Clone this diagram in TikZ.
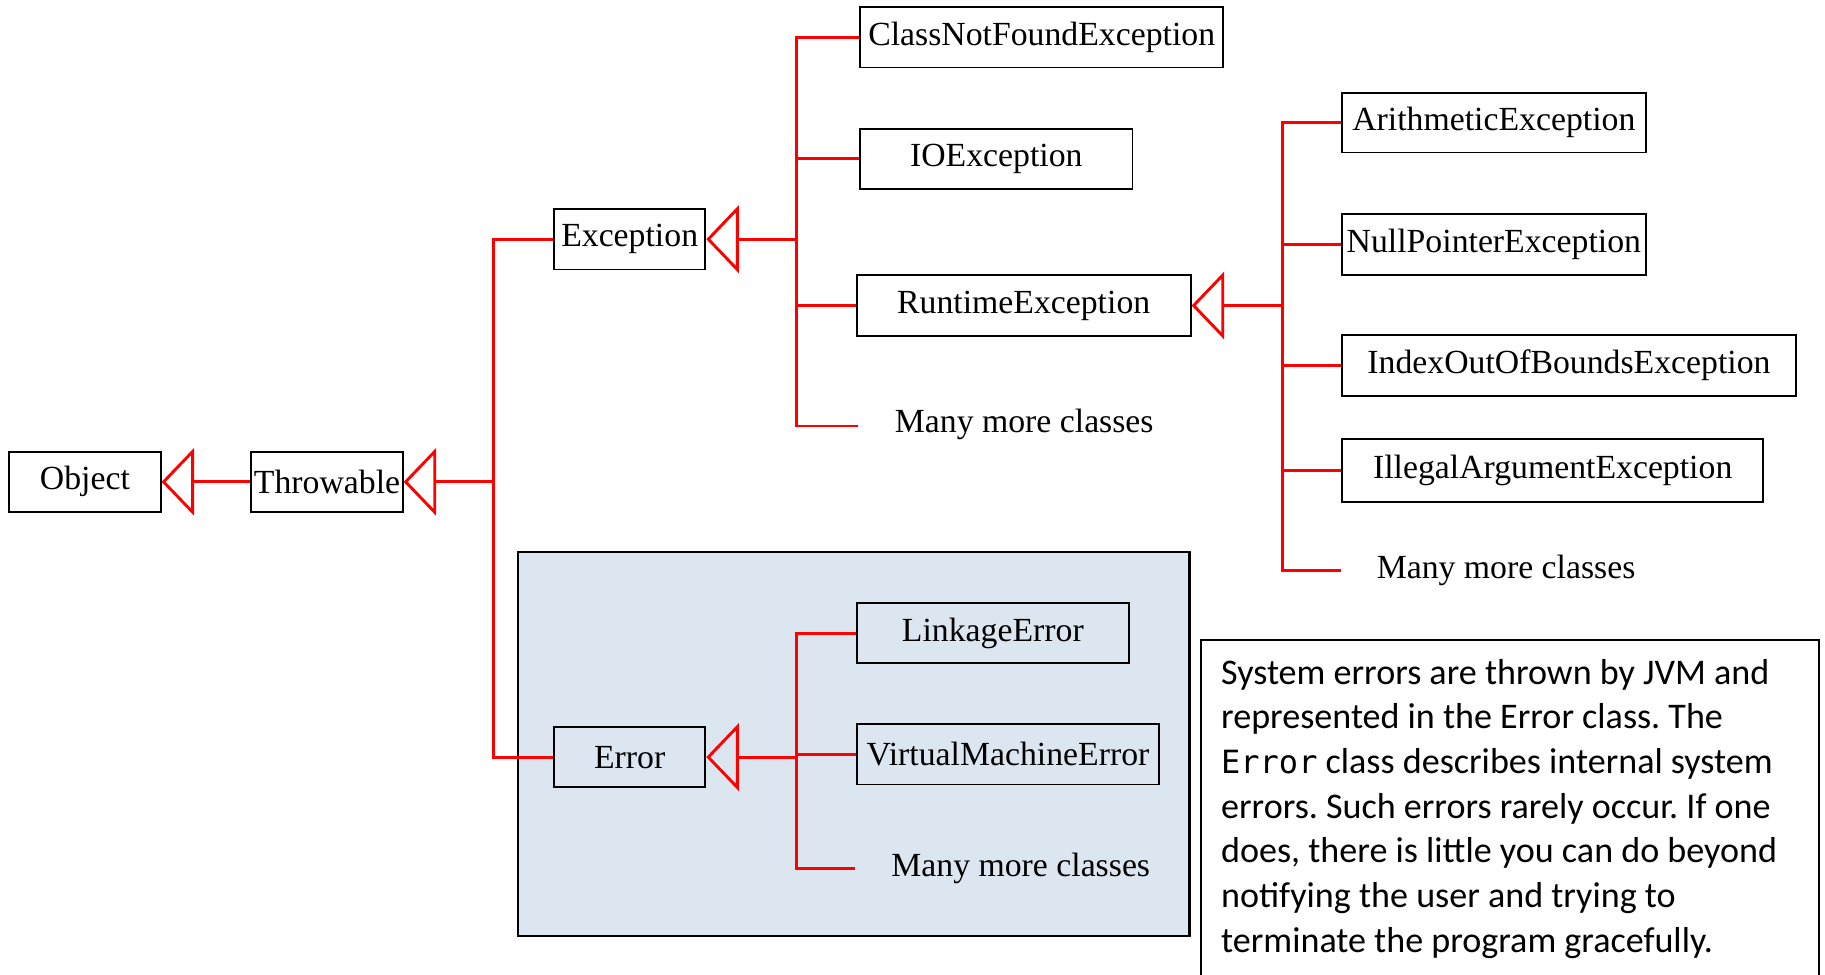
\documentclass[tikz,border=0pt]{standalone}
\usepackage{fontspec}
\setmainfont{Liberation Serif}
\newfontfamily\notefam{Carlito}
\newfontfamily\monofam{DejaVu Sans Mono}
\usetikzlibrary{arrows.meta}
\definecolor{shade}{HTML}{DCE6F0}
\tikzset{
  cls/.style={draw=black, line width=1.6pt, minimum height=52pt, inner sep=0pt,
    font=\fontsize{29}{34}\selectfont},
  more/.style={inner sep=0pt, font=\fontsize{29}{34}\selectfont},
  conn/.style={draw=red, line width=2.5pt},
  inh/.style={conn, -{Triangle[open, length=28pt, width=58pt, line width=2.5pt]}},
}
\begin{document}
\frenchspacing
\begin{tikzpicture}[x=1pt, y=-1pt]
\useasboundingbox (0,0) rectangle (1568,837);
% shaded region
\filldraw[fill=shade, draw=black, line width=1.8pt] (445,474) rectangle (1022,804);
% note box (open at the bottom)
\draw[black, line width=1.4pt] (1032,845) -- (1032,550) -- (1563,550) -- (1563,845);
\node[anchor=north west, align=left, inner sep=0pt,
  font={\notefam\fontsize{31}{38.4}\selectfont}] (note) at (1049,566)
  {System errors are thrown by JVM and\\
   represented in the Error class. The\\
   {\monofam\fontsize{27.5}{38.4}\selectfont Error} class describes internal system\\
   errors. Such errors rarely occur. If one\\
   does, there is little you can do beyond\\
   notifying the user and trying to\\
   terminate the program gracefully.};
% class boxes
\node[cls, minimum width=130pt] (obj) at (73,414) {Object};
\node[cls, minimum width=130pt] (thr) at (281,414) {Throwable};
\node[cls, minimum width=130pt] (exc) at (541,205.5) {Exception};
\node[cls, minimum width=130pt, fill=shade] (err) at (541,650.5) {Error};
\node[cls, minimum width=312pt] (cnf) at (895,32) {ClassNotFoundException};
\node[cls, minimum width=234pt] (ioe) at (856,136.5) {IOException};
\node[cls, minimum width=287pt] (rte) at (879.5,262.5) {RuntimeException};
\node[more] (mmc1) at (880,365) {Many more classes};
\node[cls, minimum width=261pt, minimum height=51pt] (ari) at (1283.5,105.5) {ArithmeticException};
\node[cls, minimum width=261pt] (npe) at (1283.5,210) {NullPointerException};
\node[cls, minimum width=390pt] (ioob) at (1348,314) {IndexOutOfBoundsException};
\node[cls, minimum width=362pt, minimum height=54pt] (iae) at (1334,404) {IllegalArgumentException};
\node[more] (mmc2) at (1294,490) {Many more classes};
\node[cls, minimum width=234pt, fill=shade] (lnk) at (853,544) {LinkageError};
\node[cls, minimum width=260pt, fill=shade] (vme) at (866,648) {VirtualMachineError};
\node[more] (mmc3) at (877,746) {Many more classes};
% junctions and free ends
\coordinate (tx) at (424,414);
\coordinate (ex) at (684,205.5);
\coordinate (rx) at (1102,262.5);
\coordinate (erx) at (684,650.5);
\coordinate (m1) at (737,366);
\coordinate (m2) at (1152,490);
\coordinate (m3) at (735,746);
% Object <- Throwable
\draw[inh] (thr.west) -- (obj.east);
% Throwable tree
\draw[conn] (exc.west) -| (tx) |- (err.west);
\draw[inh] (tx) -- (thr.east);
% Exception tree
\draw[conn] (cnf.west) -| (ex) |- (m1);
\draw[conn] (ex) |- (ioe.west);
\draw[conn] (ex) |- (rte.west);
\draw[inh] (ex) -- (exc.east);
% RuntimeException tree
\draw[conn] (ari.west) -| (rx) |- (m2);
\draw[conn] (rx) |- (npe.west);
\draw[conn] (rx) |- (ioob.west);
\draw[conn] (rx) |- (iae.west);
\draw[inh] (rx) -- (rte.east);
% Error tree
\draw[conn] (lnk.west) -| (erx) |- (m3);
\draw[conn] (erx) |- (vme.west);
\draw[inh] (erx) -- (err.east);
\end{tikzpicture}
\end{document}
